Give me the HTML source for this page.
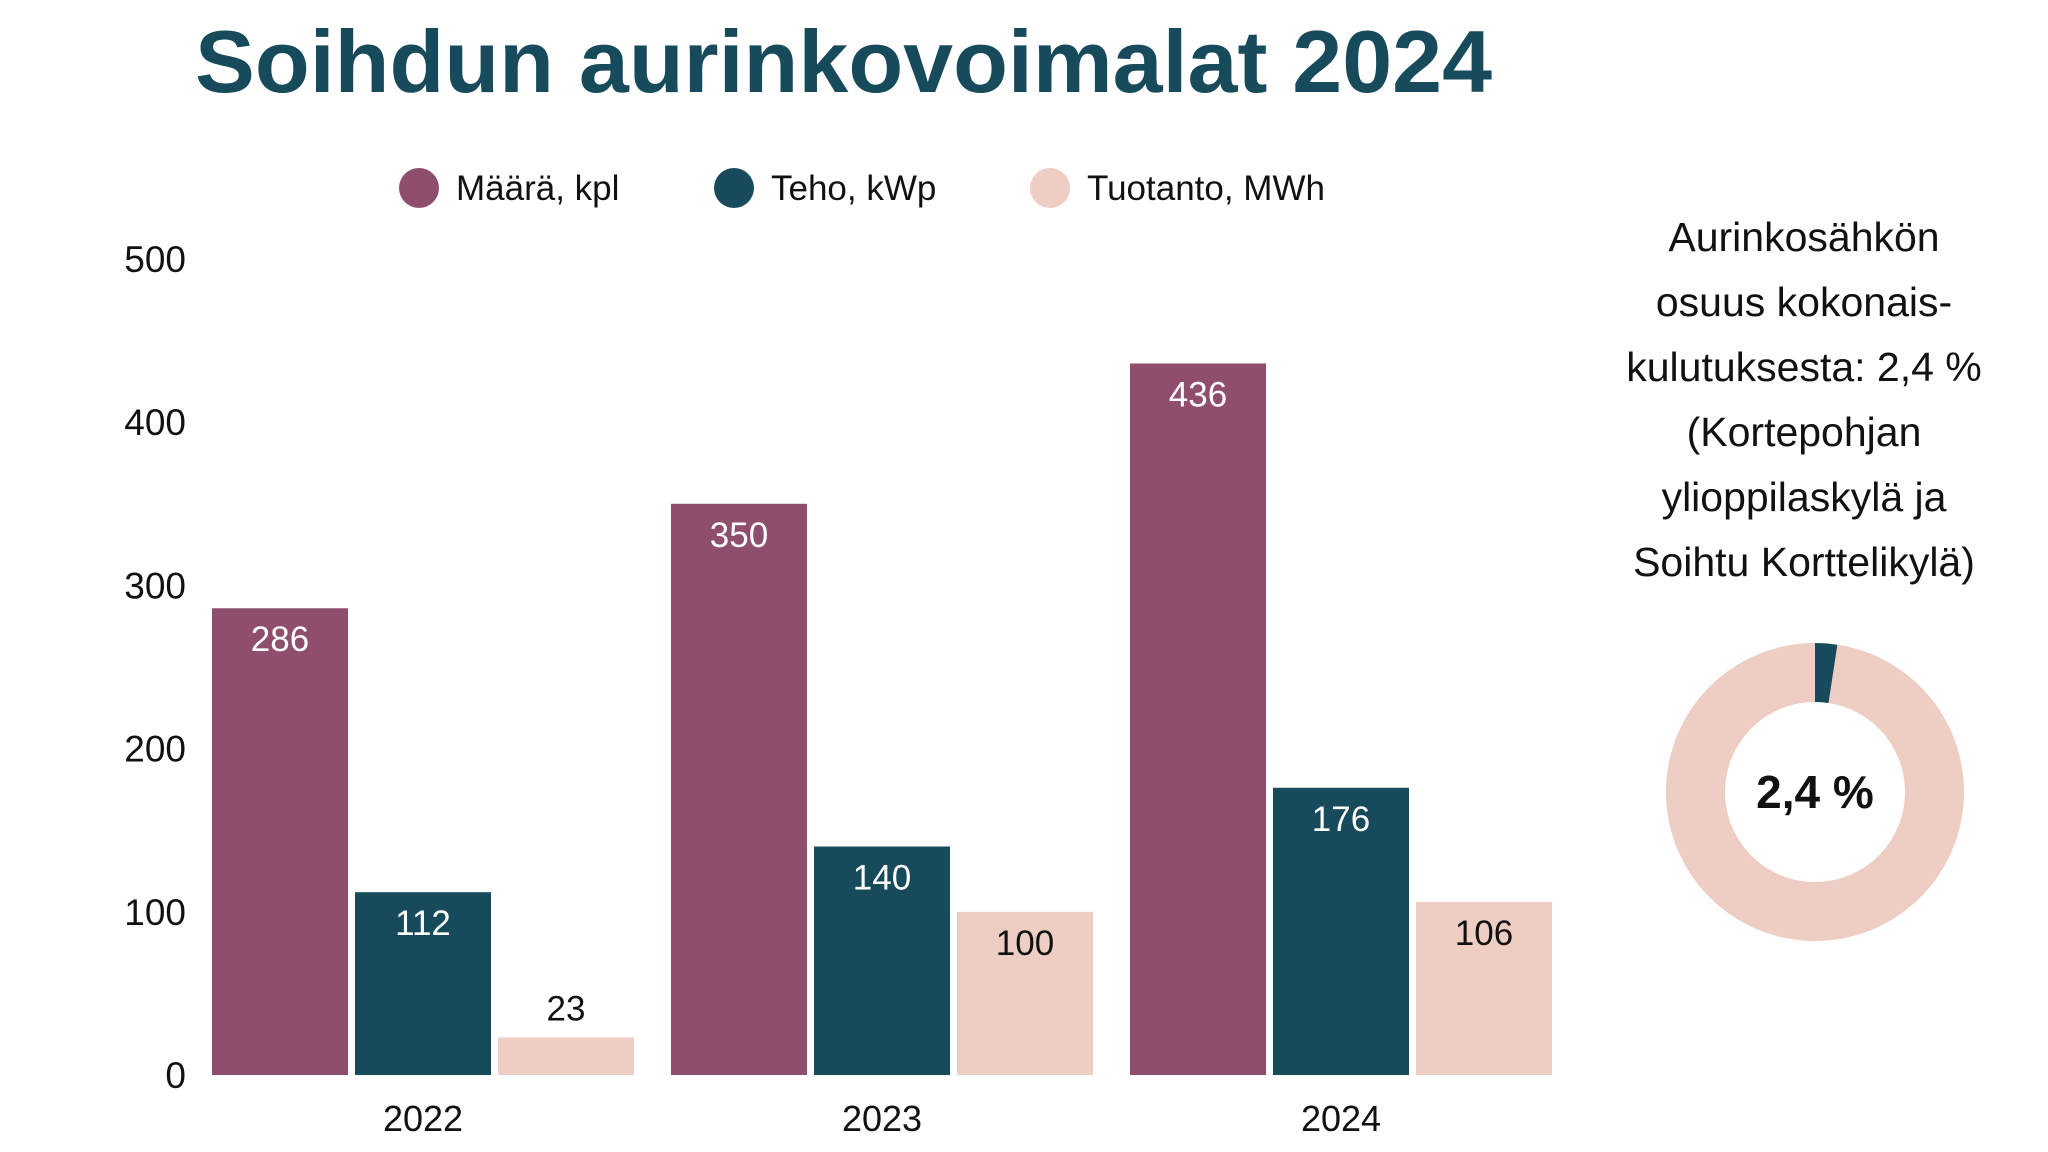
<!DOCTYPE html>
<html><head><meta charset="utf-8"><style>
body{margin:0;background:#fff;}
svg{display:block;font-family:"Liberation Sans",sans-serif;}
</style></head><body>
<svg id="chart" width="2048" height="1152" viewBox="0 0 2048 1152">
<text x="195" y="92" font-size="88" font-weight="bold" fill="#174a5a" textLength="1297" lengthAdjust="spacingAndGlyphs">Soihdun aurinkovoimalat 2024</text>
<g id="legend"></g>
<g id="yaxis"></g>
<g id="bars"></g>
<g id="side"></g>
<g id="donut"></g>
</svg>
<script>
const categories = ["2022","2023","2024"];
const seriesNames = ["Määrä, kpl","Teho, kWp","Tuotanto, MWh"];
const maaraValues = [286,350,436];
const tehoValues = [112,140,176];
const tuotantoValues = [23,100,106];
const yTicks = [0,100,200,300,400,500];
const shareValue = 2.4;
const shareLabel = "2,4 %";
const sideLines = ["Aurinkosähkön","osuus kokonais-","kulutuksesta: 2,4 %","(Kortepohjan","ylioppilaskylä ja","Soihtu Korttelikylä)"];

const colors = ["#904e6e","#174a5a","#eecdc2"];
const NS = "http://www.w3.org/2000/svg";
function mk(tag, attrs, parent, text){
  const e = document.createElementNS(NS, tag);
  for (const k in attrs) e.setAttribute(k, attrs[k]);
  if (text !== undefined) e.textContent = text;
  parent.appendChild(e); return e;
}
const y0 = 1075, yTop = 259, vMax = 500;
function yScale(v){ return y0 - (v / vMax) * (y0 - yTop); }
const groupStart = 212, groupStep = 459, barW = 136, barGap = 7;
function xBar(ci, si){ return groupStart + ci * groupStep + si * (barW + barGap); }

// legend
const lg = document.getElementById('legend');
const lx = [419, 734, 1050];
seriesNames.forEach((n, i) => {
  const c = mk('circle', {cx: lx[i], cy: 188, r: 20, fill: colors[i]}, lg);
  
  
  const t = mk('text', {x: lx[i] + 37, y: 200, 'font-size': 35, fill: '#111'}, lg, n);
  
  
});

// y axis
const ya = document.getElementById('yaxis');
yTicks.forEach(v => {
  const t = mk('text', {x: 186, y: yScale(v) + 13, 'font-size': 37, 'text-anchor': 'end', fill: '#111'}, ya, String(v));
  
  
});

// bars
const bg = document.getElementById('bars');
const allSeries = [maaraValues, tehoValues, tuotantoValues];
categories.forEach((cat, ci) => {
  allSeries.forEach((vals, si) => {
    const v = vals[ci];
    const x = xBar(ci, si), yv = yScale(v);
    const r = mk('rect', {x: x, y: yv, width: barW, height: y0 - yv, fill: colors[si]}, bg);
    
    
    const inside = (y0 - yv) > 60;
    const ly = inside ? yv + 43 : yv - 17;
    const fill = (si < 2 && inside) ? '#fff' : '#111';
    const t = mk('text', {x: x + barW / 2, y: ly, 'font-size': 35, 'text-anchor': 'middle', fill: fill}, bg, String(v));
    
    
  });
  const t = mk('text', {x: xBar(ci, 1) + barW / 2, y: 1131, 'font-size': 36, 'text-anchor': 'middle', fill: '#111'}, bg, cat);
  
  
});

// side text
const sg = document.getElementById('side');
sideLines.forEach((l, i) => {
  const t = mk('text', {x: 1804, y: 251 + i * 65, 'font-size': 41, 'text-anchor': 'middle', fill: '#111'}, sg, l);
  
  
});

// donut
const dg = document.getElementById('donut');
const cx = 1815, cy = 792, R = 149, rIn = 90;
function arc(a0, a1){
  const p = (a, r) => [cx + r * Math.sin(a), cy - r * Math.cos(a)];
  const large = (a1 - a0) > Math.PI ? 1 : 0;
  const [x0, y0_] = p(a0, R), [x1, y1] = p(a1, R), [x2, y2] = p(a1, rIn), [x3, y3] = p(a0, rIn);
  return `M${x0},${y0_} A${R},${R} 0 ${large} 1 ${x1},${y1} L${x2},${y2} A${rIn},${rIn} 0 ${large} 0 ${x3},${y3} Z`;
}
const aShare = shareValue / 100 * 2 * Math.PI;
const rest = mk('path', {d: arc(aShare, 2 * Math.PI - 0.0001), fill: '#eecdc2'}, dg);


const sl = mk('path', {d: arc(0, aShare), fill: '#174a5a'}, dg);


const ct = mk('text', {x: cx, y: cy + 16, 'font-size': 46, 'font-weight': 'bold', 'text-anchor': 'middle', fill: '#111'}, dg, shareLabel);


</script>
</body></html>
